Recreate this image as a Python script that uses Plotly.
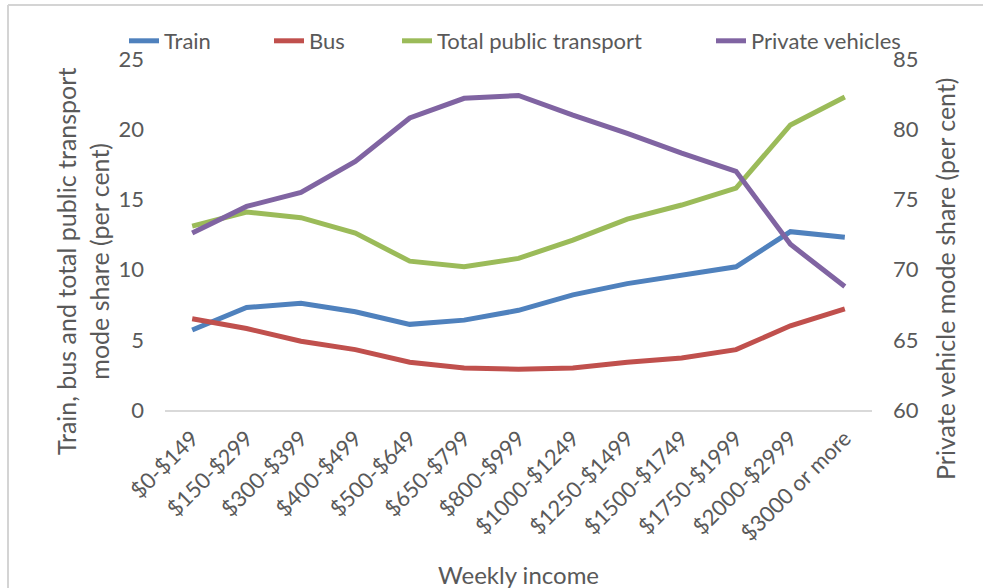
import plotly.graph_objects as go

# Weekly income bands
income = ["$0-$149", "$150-$299", "$300-$399", "$400-$499", "$500-$649", "$650-$799",
          "$800-$999", "$1000-$1249", "$1250-$1499", "$1500-$1749", "$1750-$1999",
          "$2000-$2999", "$3000 or more"]

# Mode share (per cent)
train = [5.7, 7.3, 7.6, 7.0, 6.1, 6.4, 7.1, 8.2, 9.0, 9.6, 10.2, 12.7, 12.3]
bus = [6.5, 5.8, 4.9, 4.3, 3.4, 3.0, 2.9, 3.0, 3.4, 3.7, 4.3, 6.0, 7.2]
total_pt = [13.1, 14.1, 13.7, 12.6, 10.6, 10.2, 10.8, 12.1, 13.6, 14.6, 15.8, 20.3, 22.3]
private = [72.6, 74.5, 75.5, 77.7, 80.8, 82.2, 82.4, 81.0, 79.7, 78.3, 77.0, 71.8, 68.8]

FONT = "Lato"
GREY = "#595959"
L, R, T, B = 165, 111, 59, 178
PW, PH = 983 - L - R, 588 - T - B


def px_x(x):
    return (x - L) / PW


def px_y(y):
    return (588 - B - y) / PH


fig = go.Figure()
fig.add_trace(go.Scatter(x=income, y=train, name="Train", mode="lines", legend="legend",
                         line=dict(color="#4F81BD", width=5)))
fig.add_trace(go.Scatter(x=income, y=bus, name="Bus", mode="lines", legend="legend2",
                         line=dict(color="#C0504D", width=5)))
fig.add_trace(go.Scatter(x=income, y=total_pt, name="Total public transport", mode="lines",
                         legend="legend3", line=dict(color="#9BBB59", width=5)))
fig.add_trace(go.Scatter(x=income, y=private, name="Private vehicles", mode="lines",
                         legend="legend4", yaxis="y2", line=dict(color="#8064A2", width=5)))


def leg(xpx):
    return dict(orientation="h", x=px_x(xpx), y=px_y(41), xanchor="left", yanchor="middle",
                font=dict(family=FONT, size=22, color=GREY), bgcolor="rgba(0,0,0,0)",
                borderwidth=0)


border = dict(color="#D4D4D4", width=2)

fig.update_layout(
    width=983, height=588,
    margin=dict(l=L, r=R, t=T, b=B, autoexpand=False),
    paper_bgcolor="white", plot_bgcolor="white",
    font=dict(family=FONT, size=22, color=GREY),
    showlegend=True,
    legend=leg(124), legend2=leg(269), legend3=leg(397), legend4=leg(711),
    xaxis=dict(range=[-0.5, 12.5], showgrid=False, showline=True, linecolor="#D9D9D9",
               linewidth=1.5, ticks="", tickangle=-45, automargin=False,
               ticklabelstandoff=5, tickfont=dict(size=22, color=GREY)),
    yaxis=dict(range=[0, 25], dtick=5, showgrid=False, zeroline=False, ticks="",
               automargin=False, ticklabelstandoff=20, tickfont=dict(size=22, color=GREY)),
    yaxis2=dict(range=[60, 85], dtick=5, overlaying="y", side="right", showgrid=False,
                zeroline=False, ticks="", automargin=False, ticklabelstandoff=20,
                tickfont=dict(size=22, color=GREY)),
    shapes=[
        dict(type="line", xref="paper", yref="paper", x0=px_x(8), x1=px_x(983),
             y0=px_y(5), y1=px_y(5), line=border),
        dict(type="line", xref="paper", yref="paper", x0=px_x(8), x1=px_x(8),
             y0=px_y(5), y1=px_y(588), line=border),
    ],
    annotations=[
        dict(text="Train, bus and total public transport<br>mode share (per cent)",
             xref="paper", yref="paper", x=px_x(82), y=px_y(262), xanchor="center",
             yanchor="middle", textangle=-90, showarrow=False,
             font=dict(size=25, color=GREY)),
        dict(text="Private vehicle mode share (per cent)",
             xref="paper", yref="paper", x=px_x(945), y=px_y(278), xanchor="center",
             yanchor="middle", textangle=-90, showarrow=False,
             font=dict(size=25, color=GREY)),
        dict(text="Weekly income", xref="paper", yref="paper", x=px_x(518), y=px_y(574),
             xanchor="center", yanchor="middle", showarrow=False,
             font=dict(size=24, color=GREY)),
    ],
)

fig.write_html("out.html", config=dict(displayModeBar=False),
               post_script="document.body.style.margin='0';")
